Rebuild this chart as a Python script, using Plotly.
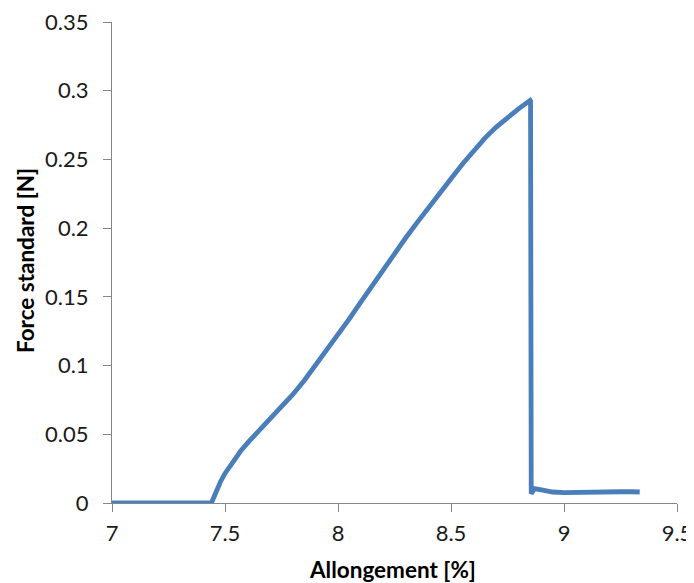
import plotly.graph_objects as go

# Elongation [%]
allongement = [7.0, 7.05, 7.1, 7.15, 7.2, 7.3, 7.4, 7.44, 7.445, 7.46, 7.48, 7.50, 7.53,
               7.57, 7.61, 7.65, 7.70, 7.75, 7.80, 7.85, 7.90, 7.95, 8.00, 8.05,
               8.10, 8.15, 8.20, 8.25, 8.30, 8.35, 8.40, 8.45, 8.50, 8.55, 8.60,
               8.65, 8.70, 8.75, 8.80, 8.85, 8.852, 8.855,
               8.87, 8.90, 8.95, 9.00, 9.05, 9.10, 9.15, 9.20, 9.25, 9.30, 9.335]
# Standard force [N]
force = [0.0, 0.0, 0.0, 0.0, 0.0, 0.0, 0.0, 0.0, 0.002, 0.008, 0.0155, 0.0215, 0.029,
         0.038, 0.0455, 0.0525, 0.061, 0.070, 0.079, 0.089, 0.100, 0.111, 0.122, 0.134,
         0.146, 0.158, 0.170, 0.182, 0.193, 0.204, 0.215, 0.2255, 0.236, 0.2465, 0.2565,
         0.2655, 0.2735, 0.2805, 0.287, 0.293, 0.2925, 0.0068,
         0.0105, 0.0095, 0.008, 0.0075, 0.0078, 0.0077, 0.0078, 0.008, 0.0082, 0.0082, 0.008]

x_ticks = [7, 7.5, 8, 8.5, 9, 9.5]
y_ticks = [0, 0.05, 0.1, 0.15, 0.2, 0.25, 0.3, 0.35]

fig = go.Figure(go.Scatter(
    x=allongement, y=force, mode="lines",
    line=dict(color="#4A7EBB", width=4.8),
    showlegend=False,
))

axis_common = dict(
    showgrid=False, zeroline=False, showline=True,
    linecolor="#868686", linewidth=1,
    ticks="outside", ticklen=8, tickcolor="#868686", tickwidth=1,
    tickfont=dict(family="Lato", size=22, color="#1a1a1a"),
    automargin=False, ticklabeloverflow="allow",
)

fig.update_layout(
    width=686, height=575,
    margin=dict(l=104, r=17, t=14, b=80),
    paper_bgcolor="white", plot_bgcolor="white",
    xaxis=dict(range=[7, 9.5], tickvals=x_ticks,
               ticktext=[f"{v:g}" for v in x_ticks],
               ticklabelstandoff=3,
               **axis_common),
    yaxis=dict(range=[0, 0.35], tickvals=y_ticks,
               ticktext=[f"{v:g}" for v in y_ticks],
               ticklabelstandoff=10,
               **axis_common),
    annotations=[
        dict(text="<b>Allongement [%]</b>", xref="paper", yref="paper",
             x=0.4965, y=-0.138, xanchor="center", yanchor="middle",
             showarrow=False, font=dict(family="Lato", size=22.5, color="#000000")),
        dict(text="<b>Force standard [N]</b>", xref="paper", yref="paper",
             x=-0.154, y=0.505, xanchor="center", yanchor="middle", textangle=-90,
             showarrow=False, font=dict(family="Lato", size=22.5, color="#000000")),
    ],
)

fig.write_html("out.html")
